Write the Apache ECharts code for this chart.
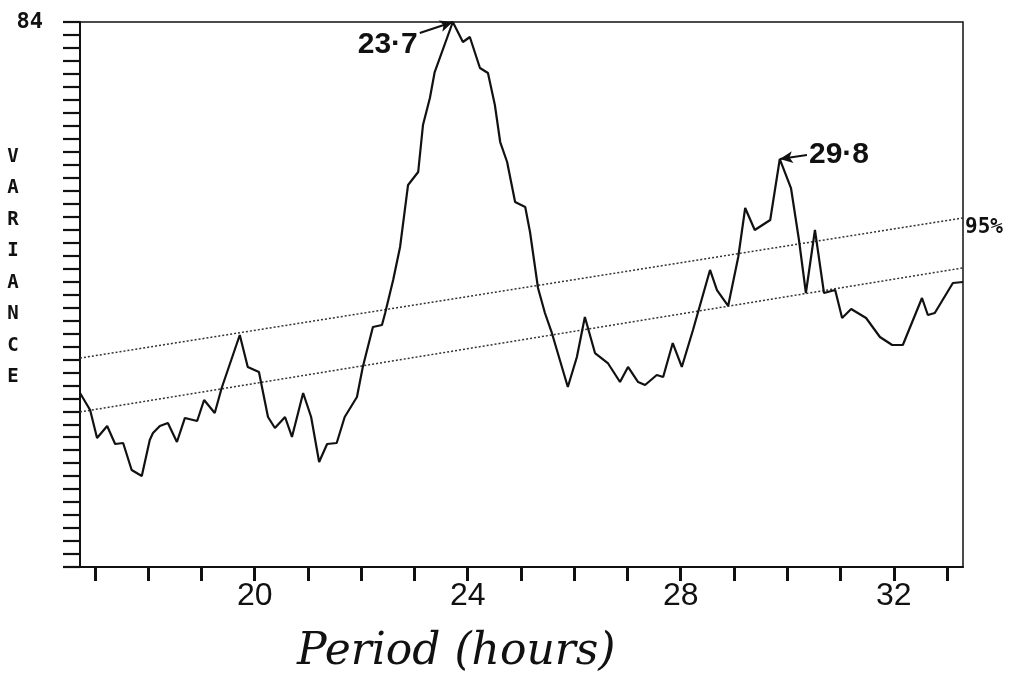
<!DOCTYPE html>
<html><head><meta charset="utf-8">
<script src="https://cdn.jsdelivr.net/npm/echarts@6/dist/echarts.min.js"></script>
<style>html,body{margin:0;padding:0;background:#fff}#c{width:1013px;height:680px}</style>
</head><body><div id="c"></div>
<script>
// Period (hours) of each sampled point of the periodogram
const periods = [16.72,16.91,17.04,17.23,17.38,17.53,17.69,17.88,18.03,18.09,18.22,18.37,18.54,18.69,18.92,19.05,19.25,19.38,19.72,19.87,20.08,20.25,20.38,20.57,20.70,20.91,21.06,21.21,21.36,21.54,21.69,21.92,22.03,22.22,22.39,22.45,22.60,22.73,22.88,23.07,23.16,23.29,23.38,23.72,23.91,24.04,24.23,24.38,24.51,24.61,24.74,24.89,25.08,25.17,25.32,25.45,25.58,25.88,26.05,26.20,26.39,26.63,26.86,27.01,27.20,27.33,27.55,27.67,27.85,28.02,28.23,28.55,28.68,28.89,29.08,29.21,29.39,29.68,29.86,30.07,30.22,30.35,30.52,30.69,30.90,31.03,31.20,31.48,31.74,31.97,32.17,32.53,32.64,32.77,33.11,33.30];
// Variance at each period
const variance = [26.82,24.20,19.88,21.73,18.96,19.11,14.95,14.03,19.57,20.65,21.73,22.19,19.27,22.97,22.50,25.74,23.74,27.59,35.76,30.83,30.05,23.12,21.42,23.12,20.04,26.82,23.12,16.18,18.96,19.11,23.12,26.20,30.83,36.99,37.30,39.15,44.23,49.32,58.88,60.88,68.12,72.29,76.29,84.00,80.92,81.69,76.91,76.14,71.21,65.50,62.42,56.26,55.49,51.63,43.00,39.15,36.07,27.74,32.37,38.53,32.98,31.44,28.51,30.83,28.51,28.05,29.59,29.28,34.52,30.83,36.53,45.78,42.69,40.23,47.78,55.33,51.94,53.48,62.88,58.41,50.40,42.23,51.94,42.23,42.69,38.38,39.76,38.38,35.45,34.22,34.22,41.46,38.84,39.15,43.77,43.93];
// 95% significance lines (period, variance) end points
const sig95Upper = [[16.72,32.2],[33.30,53.8]];
const sig95Lower = [[16.72,23.9],[33.30,46.1]];
const sig95Label = '95%';
// axis ticks / labels
const xTickValues = [17,18,19,20,21,22,23,24,25,26,27,28,29,30,31,32,33];
const xLabelValues = [20,24,28,32];
const yLabelValues = [84];
const xRange = [16.72, 33.30];
const yRange = [0, 84];
const yTickStep = 2;
const xAxisTitle = 'Period (hours)';
const yAxisTitle = 'VARIANCE';
// peak annotations
const peakLabels = ['23·7','29·8'];
const peakPoints = [[23.72,84.00],[29.86,62.88]];
const arrowStarts = [[23.10,82.3],[30.37,63.5]];

const ink = '#111';
const chart = echarts.init(document.getElementById('c'));
chart.setOption({
  animation: false,
  backgroundColor: '#fff',
  grid: {left: 80, right: 50, top: 22, bottom: 113, containLabel: false, outerBoundsMode: 'none',
         show: true, borderColor: ink, borderWidth: 1.5, backgroundColor: 'transparent'},
  xAxis: {
    type: 'value', min: xRange[0], max: xRange[1],
    axisLine: {show: true, lineStyle: {color: ink, width: 2}},
    axisTick: {show: true, inside: false, length: 14, customValues: xTickValues, lineStyle: {color: ink, width: 3}},
    axisLabel: {show: true, customValues: xLabelValues, margin: 13, color: ink,
                fontFamily: 'Liberation Sans', fontSize: 32},
    splitLine: {show: false}
  },
  yAxis: {
    type: 'value', min: yRange[0], max: yRange[1], interval: yTickStep,
    axisLine: {show: true, lineStyle: {color: ink, width: 2}},
    axisTick: {show: true, inside: false, length: 17, lineStyle: {color: ink, width: 2.2}},
    axisLabel: {show: true, customValues: yLabelValues, margin: 37, color: ink,
                fontFamily: 'DejaVu Sans Mono', fontWeight: 'bold', fontSize: 22},
    splitLine: {show: false}
  },
  graphic: [
    {type: 'text', left: 297, top: 631, style: {text: xAxisTitle, font: 'italic 44px "DejaVu Serif"', fill: ink}},
    {type: 'text', x: 13, y: 141, style: {text: yAxisTitle.split('').join('\n'), font: 'bold 19px "DejaVu Sans Mono"',
      lineHeight: 31.5, align: 'center', verticalAlign: 'top', fill: ink}}
  ],
  series: [
    {type: 'line', data: periods.map((p, i) => [p, variance[i]]), symbol: 'none', z: 5,
     lineStyle: {color: ink, width: 2.2},
     markLine: {silent: true, symbol: ['none', 'arrow'], symbolSize: [9, 13],
       lineStyle: {color: ink, width: 2, type: 'solid'}, label: {show: false},
       data: arrowStarts.map((s, i) => [{coord: s}, {coord: peakPoints[i]}])}},
    {type: 'line', data: sig95Upper, symbol: 'none', z: 3,
     lineStyle: {color: '#333', width: 1.5, type: [2, 2]},
     endLabel: {show: true, formatter: sig95Label, distance: 2, offset: [0, 10], color: ink,
                fontFamily: 'DejaVu Sans Mono', fontWeight: 'bold', fontSize: 21}},
    {type: 'line', data: sig95Lower, symbol: 'none', z: 3,
     lineStyle: {color: '#333', width: 1.5, type: [2, 2]}},
    {type: 'scatter', symbolSize: 0, z: 6, itemStyle: {opacity: 1, color: ink},
     data: arrowStarts.map((s, i) => ({value: [s[0], s[1]],
        label: {show: true, formatter: peakLabels[i], position: i === 0 ? 'left' : 'right',
                distance: 2, offset: i === 0 ? [0, 12] : [0, 0], opacity: 1,
                fontFamily: 'Liberation Sans', fontWeight: 'bold', fontSize: 30, color: ink}}))}
  ]
});
</script></body></html>
